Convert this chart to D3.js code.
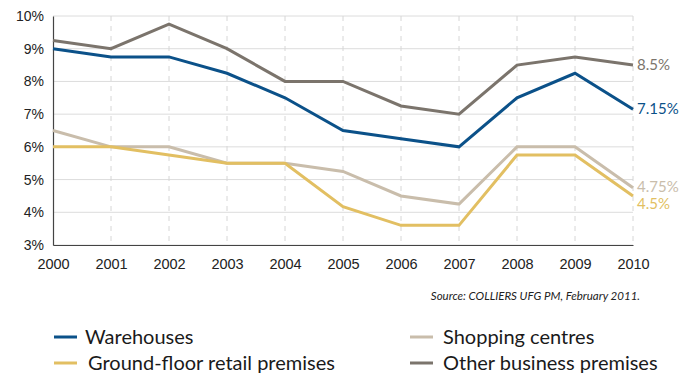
<!DOCTYPE html>
<html>
<head>
<meta charset="utf-8">
<script src="https://cdn.jsdelivr.net/npm/d3@7"></script>
<style>
  body { margin: 0; background: #fff; }
  svg { display: block; font-family: Lato, "Open Sans", sans-serif; }
</style>
</head>
<body>
<div id="chart"></div>
<script>
// chart data
const years = [2000, 2001, 2002, 2003, 2004, 2005, 2006, 2007, 2008, 2009, 2010];
const warehouses = [9, 8.75, 8.75, 8.25, 7.5, 6.5, 6.25, 6, 7.5, 8.25, 7.15];
const otherBusiness = [9.25, 9, 9.75, 9, 8, 8, 7.25, 7, 8.5, 8.75, 8.5];
const shoppingCentres = [6.5, 6, 6, 5.5, 5.5, 5.25, 4.5, 4.25, 6, 6, 4.75];
const groundFloor = [6, 6, 5.75, 5.5, 5.5, 4.17, 3.6, 3.6, 5.75, 5.75, 4.5];
const yTicks = [3, 4, 5, 6, 7, 8, 9, 10];
const endLabels = ['7.15%', '8.5%', '4.75%', '4.5%'];

const series = [
    { name: 'Other business premises', values: otherBusiness, color: '#7b746c', label: endLabels[1], shift: 0 },
    { name: 'Shopping centres', values: shoppingCentres, color: '#c9bdab', label: endLabels[2], shift: -1 },
    { name: 'Ground-floor retail premises', values: groundFloor, color: '#e2bf62', label: endLabels[3], shift: 8 },
    { name: 'Warehouses', values: warehouses, color: '#0b5189', label: endLabels[0], shift: 0 }
];

const width = 693, height = 376;
const margin = { left: 53, right: 60, top: 16, bottom: 131 };
const innerW = width - margin.left - margin.right;
const innerH = height - margin.top - margin.bottom;

const svg = d3.select('#chart').append('svg')
    .attr('width', width)
    .attr('height', height);

const g = svg.append('g')
    .attr('transform', 'translate(' + margin.left + ',' + margin.top + ')');

const x = d3.scaleLinear().domain([2000, 2010]).range([0, innerW]);
const y = d3.scaleLinear().domain([3, 10]).range([innerH, 0]);

// horizontal grid
g.append('g')
    .selectAll('line')
    .data(yTicks)
    .enter().append('line')
    .attr('x1', 0).attr('x2', innerW)
    .attr('y1', d => y(d)).attr('y2', d => y(d))
    .attr('stroke', '#dcdcdc')
    .attr('stroke-width', 1);

// vertical dashed grid
g.append('g')
    .selectAll('line')
    .data(years.slice(1))
    .enter().append('line')
    .attr('x1', d => x(d)).attr('x2', d => x(d))
    .attr('y1', 0).attr('y2', innerH)
    .attr('stroke', '#d6d6d6')
    .attr('stroke-width', 1)
    .attr('stroke-dasharray', '5,5');

// axes
const yAxis = d3.axisLeft(y).tickValues(yTicks).tickSize(0).tickPadding(9)
    .tickFormat(d => d + '%');
const yg = g.append('g').call(yAxis);
yg.select('.domain').attr('stroke', '#444').attr('stroke-width', 1.2);
yg.selectAll('text').attr('font-size', 14).attr('fill', '#222');

const xAxis = d3.axisBottom(x).tickValues(years).tickSize(0).tickPadding(14)
    .tickFormat(d3.format('d'));
const xg = g.append('g').attr('transform', 'translate(0,' + innerH + ')').call(xAxis);
xg.select('.domain').attr('stroke', '#444').attr('stroke-width', 1.2);
xg.selectAll('text').attr('font-size', 14.5).attr('fill', '#222');

// lines
const line = d3.line()
    .x((d, i) => x(years[i]))
    .y(d => y(d));

g.selectAll('.series')
    .data(series)
    .enter().append('path')
    .attr('class', 'series')
    .attr('d', d => line(d.values))
    .attr('fill', 'none')
    .attr('stroke', d => d.color)
    .attr('stroke-width', 3)
    .attr('stroke-linejoin', 'miter');

// end labels
g.selectAll('.end-label')
    .data(series)
    .enter().append('text')
    .attr('class', 'end-label')
    .attr('x', innerW + 4)
    .attr('y', d => y(d.values[d.values.length - 1]) + 5 + d.shift)
    .attr('font-size', 15)
    .attr('fill', d => d.color)
    .text(d => d.label);

// source note
svg.append('text')
    .attr('x', 640)
    .attr('y', 300)
    .attr('text-anchor', 'end')
    .attr('font-size', 11.5)
    .attr('font-style', 'italic')
    .attr('fill', '#222')
    .text('Source: COLLIERS UFG PM, February 2011.');

// legend
const legendItems = [series[3], series[1], series[2], series[0]];
const legend = svg.append('g');
const item = legend.selectAll('g')
    .data(legendItems)
    .enter().append('g')
    .attr('transform', (d, i) => 'translate(' + (i % 2 === 0 ? 54 : 410) + ',' + (i < 2 ? 337 : 363) + ')');
item.append('line')
    .attr('x1', 0).attr('x2', 23)
    .attr('stroke', d => d.color)
    .attr('stroke-width', 3);
item.append('text')
    .attr('x', (d, i) => i === 2 ? 34 : (i === 0 ? 31 : 33))
    .attr('y', 7)
    .attr('font-size', 20)
    .attr('fill', '#1a1a1a')
    .text(d => d.name);
</script>
</body>
</html>
